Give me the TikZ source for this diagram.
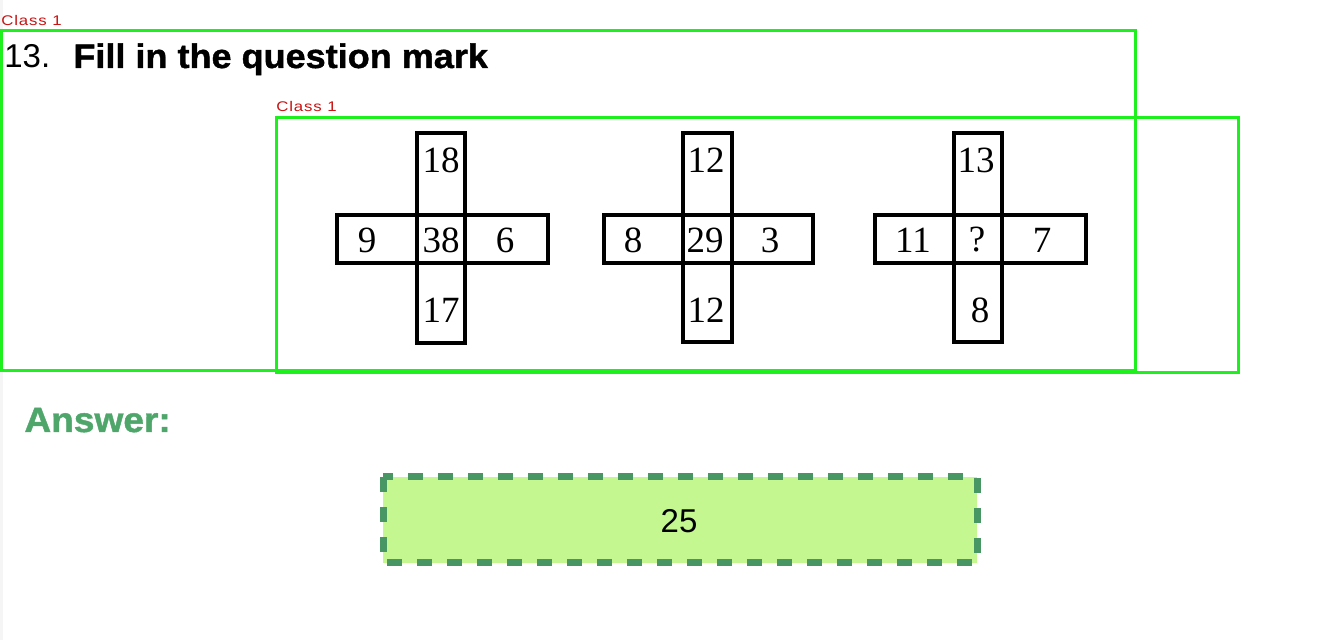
\documentclass[tikz,border=0pt]{standalone}
\usepackage{fontspec}
\setmainfont{Liberation Serif}
\setsansfont{Liberation Sans}
\newfontfamily\numfont{Liberation Serif}
\newfontfamily\hfont{Liberation Sans}
\newfontfamily\clsfont{Liberation Sans}[FakeStretch=1.2,LetterSpace=6]
\newfontfamily\heavyfont{Liberation Sans Bold}[FakeStretch=1.06,FakeBold=1.2]
\definecolor{boxgreen}{RGB}{30,240,30}
\definecolor{lblred}{RGB}{200,20,20}
\definecolor{anscol}{RGB}{78,166,106}
\definecolor{ansfill}{RGB}{197,247,145}
\definecolor{ansdraw}{RGB}{72,150,100}
\begin{document}
\begin{tikzpicture}[x=0.5pt,y=-0.5pt,
  detbox/.style={draw=boxgreen,line width=1.5pt},
  cls/.style={text=lblred,font=\clsfont\fontsize{7}{8}\selectfont,anchor=base west,inner sep=0pt},
  bar/.style={draw=black,line width=1.6pt},
  num/.style={font=\numfont\fontsize{18.5}{20}\selectfont,inner sep=0pt,anchor=center}]
\useasboundingbox[fill=white] (0,0) rectangle (1334,640);
\fill[black!4] (0,0) rectangle (3,640);
% title
\node[anchor=base west,inner sep=0pt,font=\hfont\fontsize{16.5}{18}\selectfont] (qnum) at (4,68) {13.};
\node[anchor=base west,inner sep=0pt,font=\heavyfont\fontsize{17}{19}\selectfont] (qtext) at (73,68) {Fill in the question mark};
% detection boxes
\draw[detbox] (1,31) rectangle (1135,371);
\draw[detbox] (276,118) rectangle (1238,373);
\node[cls] (c1) at (1,26) {Class 1};
\node[cls] (c2) at (276,112) {Class 1};
% cross 1
\draw[bar] (417,133) rectangle (465,343);
\draw[bar] (337,215) rectangle (548,263);
\node[num] (a1) at (441,160) {18};
\node[num] (a2) at (441,240) {38};
\node[num] (a3) at (441,310) {17};
\node[num] (a4) at (367,240) {9};
\node[num] (a5) at (505,240) {6};
% cross 2
\draw[bar] (683,133) rectangle (732,342);
\draw[bar] (604,215) rectangle (813,263);
\node[num] (b1) at (706,160) {12};
\node[num] (b2) at (705,240) {29};
\node[num] (b3) at (706,310) {12};
\node[num] (b4) at (633,240) {8};
\node[num] (b5) at (770,240) {3};
% cross 3
\draw[bar] (954,133) rectangle (1002,342);
\draw[bar] (875,215) rectangle (1086,263);
\node[num] (d1) at (976,160) {13};
\node[num] (d2) at (977,240) {?};
\node[num] (d3) at (980,310) {8};
\node[num] (d4) at (913,240) {11};
\node[num] (d5) at (1042,240) {7};
% answer
\node[anchor=base west,inner sep=0pt,text=anscol,font=\heavyfont\fontsize{17.5}{19}\selectfont] (ans) at (24,432) {Answer:};
\draw[fill=ansfill,draw=ansdraw,line width=3.5pt,dash pattern=on 7.5pt off 7.5pt] (383,477) rectangle (977,563);
\node[font=\hfont\fontsize{16.5}{18}\selectfont,inner sep=0pt] (val) at (679,521) {25};
\end{tikzpicture}
\end{document}
